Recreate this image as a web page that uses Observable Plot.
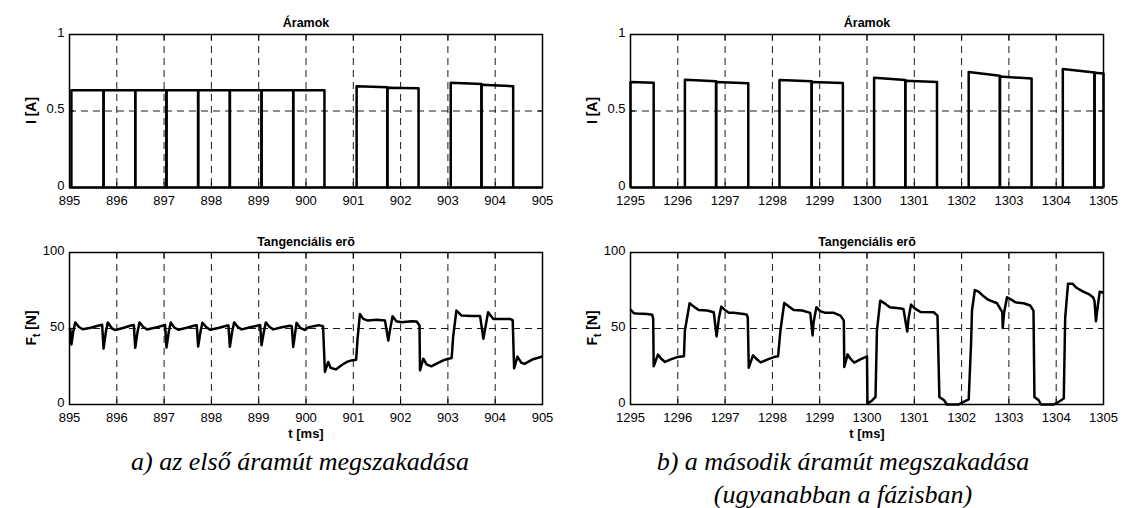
<!DOCTYPE html>
<html>
<head>
<meta charset="utf-8">
<script src="https://cdn.jsdelivr.net/npm/d3@7"></script>
<script src="https://cdn.jsdelivr.net/npm/@observablehq/plot@0.6"></script>
<style>
  html, body { margin: 0; padding: 0; background: #fff; }
  #fig { position: relative; width: 1123px; height: 508px; background: #fff; overflow: hidden; }
  .panel { position: absolute; }
  .cap { position: absolute; width: 600px; text-align: center; font-family: "Liberation Serif", "Times New Roman", serif; font-style: italic; font-size: 26px; line-height: 33px; color: #000; white-space: nowrap; }
</style>
</head>
<body>
<div id="fig"></div>
<script>
// ---------- tick labels ----------
const xTicksA = [895, 896, 897, 898, 899, 900, 901, 902, 903, 904, 905];
const xLabelsA = ["895", "896", "897", "898", "899", "900", "901", "902", "903", "904", "905"];
const xTicksB = [1295, 1296, 1297, 1298, 1299, 1300, 1301, 1302, 1303, 1304, 1305];
const xLabelsB = ["1295", "1296", "1297", "1298", "1299", "1300", "1301", "1302", "1303", "1304", "1305"];
const yTicksI = [0, 0.5, 1];
const yLabelsI = ["0", "0.5", "1"];
const yTicksF = [0, 50, 100];
const yLabelsF = ["0", "50", "100"];

// ---------- texts ----------
const titleI = "Áramok";
const titleF = "Tangenciális erõ";
const xLabelText = "t [ms]";
const captionA = ["a) az első áramút megszakadása"];
const captionB = ["b) a második áramút megszakadása", "(ugyanabban a fázisban)"];

// ---------- currents, case a) : pulses ----------
const pulseStartA = [895.04, 895.72, 896.39, 897.05, 897.72, 898.39, 899.06, 899.73, 901.07, 901.72, 903.06, 903.71];
const pulseEndA   = [895.72, 896.39, 897.05, 897.72, 898.39, 899.06, 899.73, 900.39, 901.72, 902.38, 903.71, 904.38];
const pulseI0A    = [0.636, 0.636, 0.636, 0.636, 0.636, 0.636, 0.636, 0.636, 0.662, 0.652, 0.685, 0.672];
const pulseI1A    = [0.636, 0.636, 0.636, 0.636, 0.636, 0.636, 0.636, 0.636, 0.655, 0.649, 0.676, 0.662];
const zeroTA = [895, 905];
const zeroIA = [0, 0];

// ---------- currents, case b) : pulses ----------
const pulseStartB = [1295.0, 1296.15, 1296.81, 1298.15, 1298.83, 1300.15, 1300.81, 1302.15, 1302.81, 1304.14, 1304.81];
const pulseEndB   = [1295.49, 1296.81, 1297.49, 1298.83, 1299.49, 1300.81, 1301.48, 1302.81, 1303.48, 1304.81, 1305.0];
const pulseI0B    = [0.690, 0.704, 0.690, 0.702, 0.690, 0.718, 0.698, 0.755, 0.725, 0.775, 0.750];
const pulseI1B    = [0.685, 0.695, 0.682, 0.694, 0.683, 0.702, 0.690, 0.730, 0.712, 0.752, 0.745];
const zeroTB = [1295, 1305];
const zeroIB = [0, 0];

// ---------- tangential force, case a) ----------
const forceTA = [895.00, 895.02, 895.04, 895.08, 895.12, 895.20, 895.28, 895.45, 895.62, 895.69,
  895.72, 895.77, 895.81, 895.90, 895.97, 896.15, 896.30, 896.36,
  896.39, 896.44, 896.48, 896.56, 896.64, 896.82, 896.98, 897.02,
  897.05, 897.10, 897.14, 897.22, 897.30, 897.48, 897.65, 897.69,
  897.72, 897.77, 897.81, 897.89, 897.97, 898.15, 898.32, 898.36,
  898.39, 898.44, 898.48, 898.56, 898.64, 898.82, 898.99, 899.03,
  899.06, 899.11, 899.15, 899.23, 899.31, 899.49, 899.66, 899.70,
  899.73, 899.77, 899.80, 899.88, 899.97, 900.06, 900.27, 900.36,
  900.40, 900.47, 900.52, 900.63, 900.75, 900.86, 900.96, 901.06,
  901.09, 901.14, 901.21, 901.31, 901.49, 901.67,
  901.74, 901.77, 901.83, 901.91, 902.02, 902.23, 902.34, 902.40,
  902.41, 902.48, 902.55, 902.65, 902.76, 902.90, 903.01, 903.08,
  903.11, 903.18, 903.29, 903.50, 903.68,
  903.75, 903.80, 903.85, 903.96, 904.10, 904.31, 904.37,
  904.40, 904.47, 904.55, 904.62, 904.80, 905.00];
const forceFA = [50.5, 49, 39.5, 48, 54, 51, 49.5, 50.5, 52, 52.5,
  36.8, 48, 54, 50, 49, 50.5, 52, 52.3,
  37.3, 48, 54, 51, 49.3, 50.6, 52, 52.4,
  37.5, 48, 54, 50.5, 49.2, 50.5, 52, 52.2,
  38.2, 48, 53.8, 51, 49.2, 50.3, 51.8, 52,
  38, 48, 54, 51, 49.4, 50.8, 52, 52.3,
  39, 48, 54, 51, 49.4, 50.8, 51.8, 51.5,
  37.8, 47, 53.7, 50.4, 49.1, 50.9, 52.2, 51.5,
  21.4, 28, 24.2, 23.1, 25.8, 28, 29, 29.5,
  43.2, 59.6, 56.3, 55.2, 55.7, 55.2,
  42.1, 48, 58.1, 54.8, 54.1, 54.8, 54.6, 52,
  22.5, 30.1, 26.4, 25.1, 26.9, 29, 30.1, 30.6,
  44.3, 61.8, 58.5, 58.3, 58.3,
  43.2, 52, 60.7, 56.3, 56.3, 56.3, 55.5,
  23.8, 31.5, 27.6, 26.7, 29.8, 31.6];

// ---------- tangential force, case b) ----------
const forceTB = [1295.00, 1295.02, 1295.07, 1295.14, 1295.35, 1295.46, 1295.48,
  1295.49, 1295.58, 1295.65, 1295.73, 1295.85, 1295.99, 1296.13,
  1296.15, 1296.25, 1296.34, 1296.44, 1296.62, 1296.76,
  1296.82, 1296.87, 1296.92, 1297.01, 1297.08, 1297.18, 1297.39, 1297.46, 1297.48,
  1297.50, 1297.59, 1297.66, 1297.75, 1297.89, 1298.03, 1298.12,
  1298.17, 1298.25, 1298.35, 1298.45, 1298.63, 1298.80,
  1298.85, 1298.87, 1298.93, 1299.01, 1299.12, 1299.30, 1299.44, 1299.51,
  1299.52, 1299.59, 1299.65, 1299.73, 1299.86, 1300.00,
  1300.01, 1300.10, 1300.18,
  1300.21, 1300.28, 1300.39, 1300.48, 1300.67, 1300.77,
  1300.85, 1300.88, 1300.93, 1301.02, 1301.13, 1301.41, 1301.49,
  1301.53, 1301.63, 1301.69, 1301.94, 1302.00, 1302.15,
  1302.20, 1302.22, 1302.28, 1302.36, 1302.45, 1302.57, 1302.75, 1302.86,
  1302.87, 1302.90, 1302.96, 1303.03, 1303.14, 1303.31, 1303.45, 1303.52,
  1303.54, 1303.63, 1303.68, 1303.94, 1304.00, 1304.16,
  1304.19, 1304.25, 1304.35, 1304.43, 1304.55, 1304.70, 1304.78, 1304.81,
  1304.84, 1304.88, 1304.92, 1305.00];
const forceFB = [62.5, 61.8, 60, 59.8, 59.6, 59, 56.3,
  25.1, 32.8, 30.1, 28, 29.7, 31.2, 31.7,
  48.7, 66.6, 64.4, 62.2, 61.8, 60.7,
  44.8, 57, 64.4, 61.8, 60.3, 60.3, 59.6, 59, 57,
  24.2, 32.3, 30.1, 27.7, 29.5, 31.2, 31.7,
  48.7, 66.8, 64.4, 62.2, 61.8, 60.3,
  45.4, 54, 64, 61.4, 60.3, 60.3, 58.5, 55.2,
  24.7, 33, 30.1, 27.5, 29.7, 31.7,
  0.7, 2.4, 5,
  48.7, 68.3, 66.2, 64, 63.3, 62.9,
  48, 57, 65.7, 62.9, 60.9, 60.7, 58.5,
  5, 2.8, 0, 0, 1.1, 3.3,
  40, 62, 75.3, 74.2, 71.6, 68.8, 66.6, 60.7,
  50.4, 60.7, 70.5, 69.4, 67.2, 66.6, 65.1, 61.8,
  5, 2.8, 0, 0, 0.7, 3.9,
  57, 79.5, 79.4, 76.8, 74.6, 72.4, 70.6, 68,
  54.7, 65, 74.2, 73.5];

// ---------- build tables ----------
function pulseTable(starts, ends, i0, i1) {
  const rows = [];
  starts.forEach((s, k) => {
    rows.push({t: s, I: 0, id: k});
    rows.push({t: s, I: i0[k], id: k});
    rows.push({t: ends[k], I: i1[k], id: k});
    rows.push({t: ends[k], I: 0, id: k});
  });
  return rows;
}
const zip = (ts, vs) => ts.map((t, k) => ({t, v: vs[k]}));

const W = 561, ML = 69, MR = 19;
const fontFamily = "'Liberation Sans', Arial, Helvetica, sans-serif";

function panel({xTicks, xLabels, yTicks, yLabels, lines, title, height, marginTop, marginBottom, showXLabel, titleDy}) {
  const fmt = (ticks, labels) => d => labels[ticks.indexOf(d)];
  const grid = {stroke: "black", strokeOpacity: 1, strokeWidth: 0.9, strokeDasharray: "7,5"};
  const marks = [
    Plot.gridX(xTicks, grid),
    Plot.gridY(yTicks, grid),
    ...lines,
    Plot.frame({stroke: "black", strokeWidth: 1.5}),
    Plot.axisX({ticks: xTicks, anchor: "bottom", tickSize: 0, tickPadding: 8, tickFormat: fmt(xTicks, xLabels), label: null, fontSize: 13}),
    Plot.axisX({ticks: xTicks, anchor: "bottom", tickSize: -5, tickFormat: () => "", label: null, strokeWidth: 1}),
    Plot.axisX({ticks: xTicks, anchor: "top", tickSize: -5, tickFormat: () => "", label: null, strokeWidth: 1}),
    Plot.axisY({ticks: yTicks, anchor: "left", tickSize: 0, tickPadding: 5, tickFormat: fmt(yTicks, yLabels), label: null, fontSize: 13, dy: -2}),
    Plot.axisY({ticks: yTicks, anchor: "left", tickSize: -5, tickFormat: () => "", label: null, strokeWidth: 1}),
    Plot.axisY({ticks: yTicks, anchor: "right", tickSize: -5, tickFormat: () => "", label: null, strokeWidth: 1}),
    Plot.text([title], {frameAnchor: "top", dy: titleDy, fontWeight: "bold", fontSize: 12.5, fill: "black"})
  ];
  if (showXLabel) marks.push(Plot.text([xLabelText], {frameAnchor: "bottom", dy: 33, fontWeight: "bold", fontSize: 13, fill: "black"}));
  return Plot.plot({
    width: W, height, marginLeft: ML, marginRight: MR, marginTop, marginBottom,
    x: {domain: [xTicks[0], xTicks[xTicks.length - 1]]},
    y: {domain: [yTicks[0], yTicks[yTicks.length - 1]]},
    style: {fontFamily, fontSize: "13px", color: "black", background: "transparent", overflow: "visible"},
    marks
  });
}

const lineStyle = {stroke: "black", strokeWidth: 2.5, strokeLinejoin: "round", strokeLinecap: "butt"};

const fig = document.getElementById("fig");
function place(svg, left, top) {
  const d = document.createElement("div");
  d.className = "panel";
  d.style.left = left + "px";
  d.style.top = top + "px";
  d.appendChild(svg);
  fig.appendChild(d);
  return svg;
}
function yLabel(svg, parts, cy) {
  const t = d3.select(svg).append("text")
    .attr("transform", `translate(32,${cy}) rotate(-90)`)
    .attr("text-anchor", "middle").attr("dominant-baseline", "middle")
    .attr("font-family", fontFamily).attr("font-weight", "bold").attr("font-size", 14).attr("fill", "black");
  parts.forEach(p => {
    const ts = t.append("tspan").text(p.text);
    if (p.sub) ts.attr("dy", 5).attr("font-size", 10);
    if (p.after) ts.attr("dy", -5);
  });
}

const TOPH = 215, TOPMT = 34, TOPMB = 28;
const BOTH = 240, BOTMT = 37, BOTMB = 51;

// a) currents
const pA = place(panel({
  xTicks: xTicksA, xLabels: xLabelsA, yTicks: yTicksI, yLabels: yLabelsI, title: titleI,
  height: TOPH, marginTop: TOPMT, marginBottom: TOPMB, titleDy: -16, showXLabel: false,
  lines: [
    Plot.line(zip(zeroTA, zeroIA), {x: "t", y: "v", ...lineStyle}),
    Plot.line(pulseTable(pulseStartA, pulseEndA, pulseI0A, pulseI1A), {x: "t", y: "I", z: "id", ...lineStyle})
  ]
}), 0, 0);
yLabel(pA, [{text: "I [A]"}], (TOPMT + TOPH - TOPMB) / 2);

// b) currents
const pB = place(panel({
  xTicks: xTicksB, xLabels: xLabelsB, yTicks: yTicksI, yLabels: yLabelsI, title: titleI,
  height: TOPH, marginTop: TOPMT, marginBottom: TOPMB, titleDy: -16, showXLabel: false,
  lines: [
    Plot.line(zip(zeroTB, zeroIB), {x: "t", y: "v", ...lineStyle}),
    Plot.line(pulseTable(pulseStartB, pulseEndB, pulseI0B, pulseI1B), {x: "t", y: "I", z: "id", ...lineStyle})
  ]
}), W, 0);
yLabel(pB, [{text: "I [A]"}], (TOPMT + TOPH - TOPMB) / 2);

// a) force
const pC = place(panel({
  xTicks: xTicksA, xLabels: xLabelsA, yTicks: yTicksF, yLabels: yLabelsF, title: titleF,
  height: BOTH, marginTop: BOTMT, marginBottom: BOTMB, titleDy: -15, showXLabel: true,
  lines: [Plot.line(zip(forceTA, forceFA), {x: "t", y: "v", ...lineStyle})]
}), 0, TOPH);
yLabel(pC, [{text: "F"}, {text: "t", sub: true}, {text: " [N]", after: true}], (BOTMT + BOTH - BOTMB) / 2);

// b) force
const pD = place(panel({
  xTicks: xTicksB, xLabels: xLabelsB, yTicks: yTicksF, yLabels: yLabelsF, title: titleF,
  height: BOTH, marginTop: BOTMT, marginBottom: BOTMB, titleDy: -15, showXLabel: true,
  lines: [Plot.line(zip(forceTB, forceFB), {x: "t", y: "v", ...lineStyle})]
}), W, TOPH);
yLabel(pD, [{text: "F"}, {text: "t", sub: true}, {text: " [N]", after: true}], (BOTMT + BOTH - BOTMB) / 2);

// captions
function caption(lines, cx, top) {
  const d = document.createElement("div");
  d.className = "cap";
  d.style.left = (cx - 300) + "px";
  d.style.top = top + "px";
  lines.forEach((l, k) => {
    const s = document.createElement("div");
    s.textContent = l;
    d.appendChild(s);
  });
  fig.appendChild(d);
}
caption(captionA, 300, 445);
caption(captionB, 843, 445);
</script>
</body>
</html>
